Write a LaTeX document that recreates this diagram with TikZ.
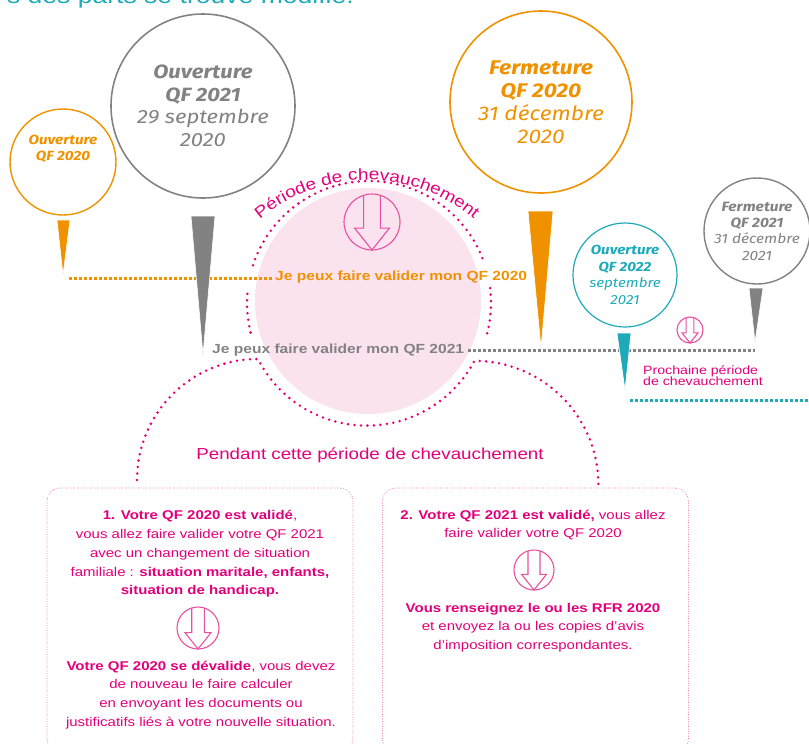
\documentclass[tikz,border=0pt]{standalone}
\usepackage{fontspec}
\setmainfont{Liberation Sans}[FakeStretch=1.18]
\newfontfamily\manuscrite{Fira Sans}[FakeStretch=1.15]
\usetikzlibrary{decorations.text}

\definecolor{qforange}{RGB}{240,146,0}
\definecolor{qfgris}{RGB}{130,130,130}
\definecolor{qfteal}{RGB}{30,170,185}
\definecolor{qfrose}{RGB}{226,0,122}
\definecolor{qfrosetrait}{RGB}{232,80,160}
\definecolor{qfrosepale}{RGB}{250,226,239}

\tikzset{
  bulle/.style={circle,draw,line width=1.6pt,inner sep=0pt,align=center},
  repere/.style={draw=white,line width=0.6pt},
  pointille/.style={line width=3pt,dash pattern=on 3pt off 2pt},
  arcrose/.style={draw=qfrose,line width=2.8pt,line cap=round,dash pattern=on 0pt off 6.5pt},
  cadre/.style={draw=qfrosetrait,line width=0.9pt,line cap=round,dash pattern=on 0pt off 2.4pt,rounded corners=13pt,minimum width=306pt,minimum height=264pt},
  texte/.style={text=qfrose,align=center,font=\fontsize{12.7}{18.7}\selectfont},
  pics/fleche/.style={code={
    \draw[qfrosetrait,line width=1.1pt] (0,0) circle (1);
    \draw[qfrosetrait,line width=1.1pt,line join=miter] (-0.3,-0.954) -- (-0.3,0.22) -- (-0.62,0.22) -- (0,1) -- (0.62,0.22) -- (0.3,0.22) -- (0.3,-0.954);
  }}
}

\begin{document}
\begin{tikzpicture}[x=1pt,y=-1pt]
\useasboundingbox (0,0) rectangle (809,744);

% phrase coupee en haut
\node[anchor=base east,inner sep=0pt,text=qfteal,font=\fontsize{22.5}{24}\selectfont] (titre) at (354,4) {s des parts se trouve modifié.};

% periode de chevauchement
\fill[qfrosepale] (368,301) circle (113);
\draw[arcrose] (369,303) ++(198:122) arc[start angle=198,end angle=339,radius=122];
\draw[arcrose] (369,303) ++(166:122) arc[start angle=166,end angle=185,radius=122];
\draw[arcrose] (369,303) ++(-7:122) arc[start angle=-7,end angle=15,radius=122];
\draw[arcrose] (137,480) arc[start angle=180,end angle=270,radius=121]
  arc[start angle=153,end angle=28,radius=122]
  arc[start angle=270,end angle=360,radius=124];
\path[decorate,decoration={text along path,text align=center,
  text={|\color{qfrose}\fontsize{16.2}{16}\selectfont|Période de chevauchement}}]
  (367,346) ++(222:166) arc[start angle=222,end angle=318,radius=166];
\pic[scale=28] (fhaut) at (372,222) {fleche};

% lignes de validite
\node[anchor=west,inner sep=0pt,text=qforange,font=\bfseries\fontsize{13.2}{14}\selectfont] (j2020) at (275,277) {Je peux faire valider mon QF 2020};
\node[anchor=west,inner sep=0pt,text=qfgris,font=\bfseries\fontsize{13.2}{14}\selectfont] (j2021) at (212,350) {Je peux faire valider mon QF 2021};
\coordinate (p2020) at (63,275);
\coordinate (p2021) at (203,355);
\coordinate (q2020) at (541,348);
\coordinate (p2022) at (625,390);
\coordinate (q2021) at (755,342);
\coordinate (d2020) at (69,278);
\coordinate (d2022) at (630,400);
\coordinate (fin) at (809,400);

\draw[pointille,qforange] (d2020) -- ([xshift=-2pt]d2020 -| j2020.west);
\draw[pointille,qfgris] ([xshift=4pt]j2021.east) -- (j2021.east -| q2021);
\draw[pointille,qfteal] (d2022) -- (fin);

% reperes
\filldraw[repere,fill=qforange] (57,220) -- (70,220) -- (p2020) -- cycle;
\filldraw[repere,fill=qfgris] (191,216) -- (215,216) -- (p2021) -- cycle;
\filldraw[repere,fill=qforange] (528,211) -- (553,211) -- (q2020) -- cycle;
\filldraw[repere,fill=qfteal] (617,333) -- (631,333) -- (p2022) -- cycle;
\filldraw[repere,fill=qfgris] (749,288) -- (763,288) -- (q2021) -- cycle;

% bulles
\node[bulle,draw=qforange,line width=1.4pt,minimum size=106pt] (o2020) at (63,162) {};
\node[text=qforange,align=center,font=\manuscrite\itshape\bfseries\fontsize{13.3}{16}\selectfont] (to2020) at (63,149) {Ouverture\\QF 2020};
\node[bulle,draw=qfgris,minimum size=184pt,text=qfgris,font=\manuscrite\itshape\fontsize{19.2}{22.5}\selectfont] (o2021) at (203,106) {{\bfseries Ouverture}\\{\bfseries QF 2021}\\29 septembre\\2020};
\node[bulle,draw=qforange,minimum size=182pt,text=qforange,font=\manuscrite\itshape\fontsize{19.8}{23}\selectfont] (f2020) at (541,102) {{\bfseries Fermeture}\\{\bfseries QF 2020}\\31 décembre\\2020};
\node[bulle,draw=qfteal,line width=1.2pt,minimum size=104pt,text=qfteal,font=\manuscrite\itshape\fontsize{13.2}{16.5}\selectfont] (o2022) at (625,275) {{\bfseries Ouverture}\\{\bfseries QF 2022}\\septembre\\2021};
\node[bulle,draw=qfgris,line width=1.4pt,minimum size=106pt,text=qfgris,font=\manuscrite\itshape\fontsize{13.5}{16.3}\selectfont] (f2021) at (757,231) {{\bfseries Fermeture}\\{\bfseries QF 2021}\\31 décembre\\2021};

% prochaine periode
\pic[scale=13] (fproch) at (690,330) {fleche};
\node[anchor=west,inner sep=0pt,align=left,text=qfrose,font=\fontsize{12}{11.5}\selectfont] (prochaine) at (643,375.5) {Prochaine période\\de chevauchement};

% pendant cette periode
\node[text=qfrose,font=\fontsize{15.9}{18}\selectfont] (pendant) at (370,455) {Pendant cette période de chevauchement};

\node[cadre] (cadre1) at (200,620) {};
\node[cadre] (cadre2) at (535.5,620) {};

\node[texte] (b1haut) at (200,554) {{\bfseries 1. Votre QF 2020 est validé},\\vous allez faire valider votre QF 2021\\avec un changement de situation\\familiale : {\bfseries situation maritale, enfants,}\\{\bfseries situation de handicap.}};
\pic[scale=21] (f1) at (198,628) {fleche};
\node[texte] (b1bas) at (201,695) {{\bfseries Votre QF 2020 se dévalide}, vous devez\\de nouveau le faire calculer\\en envoyant les documents ou\\justificatifs liés à votre nouvelle situation.};

\node[texte] (b2haut) at (533,525) {{\bfseries 2. Votre QF 2021 est validé,} vous allez\\faire valider votre QF 2020};
\pic[scale=20] (f2) at (534,570) {fleche};
\node[texte] (b2bas) at (533,627.5) {{\bfseries Vous renseignez le ou les RFR 2020}\\et envoyez la ou les copies d'avis\\d'imposition correspondantes.};
\end{tikzpicture}
\end{document}
